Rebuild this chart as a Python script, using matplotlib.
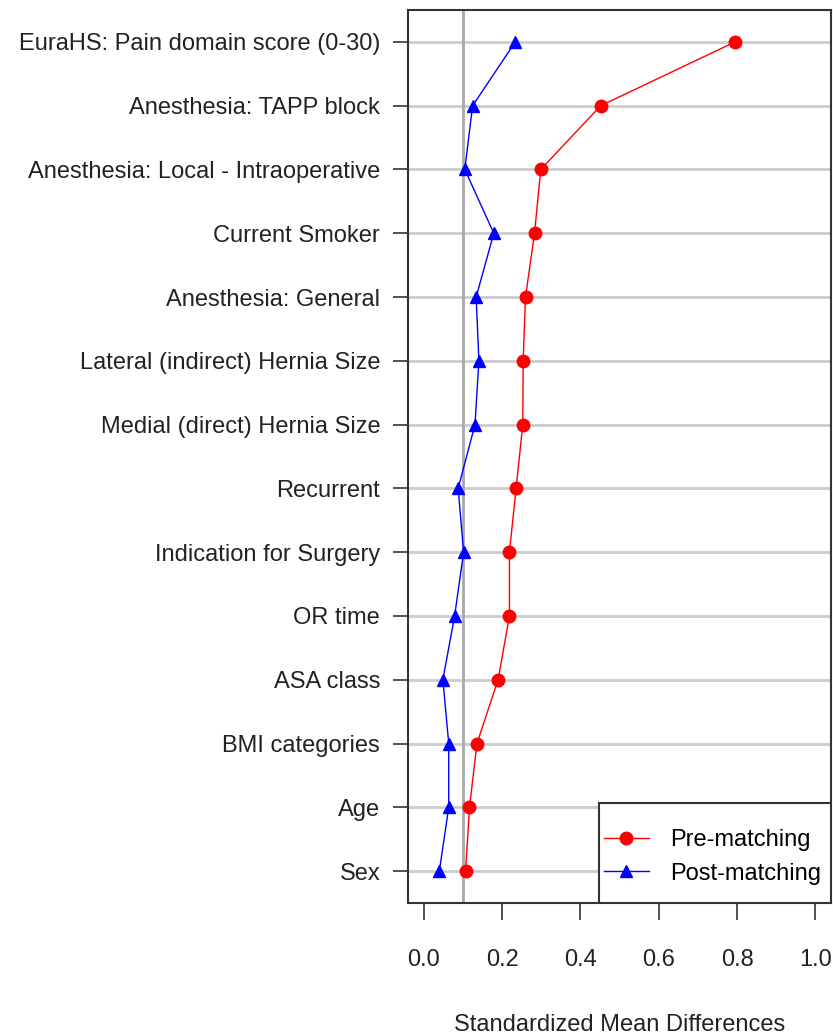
import matplotlib.pyplot as plt
from matplotlib.patches import Rectangle

plt.rcParams['font.family'] = ['Liberation Sans', 'DejaVu Sans']

labels = ['EuraHS: Pain domain score (0-30)', 'Anesthesia: TAPP block',
          'Anesthesia: Local - Intraoperative', 'Current Smoker',
          'Anesthesia: General', 'Lateral (indirect) Hernia Size',
          'Medial (direct) Hernia Size', 'Recurrent', 'Indication for Surgery',
          'OR time', 'ASA class', 'BMI categories', 'Age', 'Sex']
pre = [0.795, 0.452, 0.299, 0.283, 0.260, 0.254, 0.253, 0.236, 0.219,
       0.219, 0.190, 0.136, 0.117, 0.107]
post = [0.234, 0.125, 0.105, 0.179, 0.134, 0.141, 0.131, 0.088, 0.102,
        0.079, 0.049, 0.064, 0.064, 0.040]
xticks = [0.0, 0.2, 0.4, 0.6, 0.8, 1.0]

n = len(labels)
ypos = list(range(n, 0, -1))

fig = plt.figure(figsize=(8.33, 10.34), dpi=100)
ax = fig.add_axes([0.4898, 0.1267, 0.5078, 0.8636])

for y in ypos:
    ax.axhline(y, color='#cccccc', lw=2, zorder=0)
ax.axvline(0.1, color='#a8a8a8', lw=2, zorder=1)

ax.plot(pre, ypos, '-', color='red', lw=1, marker='o', ms=9, label='Pre-matching', zorder=3)
ax.plot(post, ypos, '-', color='blue', lw=1, marker='^', ms=9, label='Post-matching', zorder=3)

ax.set_xlim(-0.04, 1.04)
ax.set_ylim(0.5, n + 0.5)
ax.set_yticks(ypos)
ax.set_yticklabels(labels)
ax.set_xticks(xticks)
ax.set_xticklabels(['%.1f' % t for t in xticks])
ax.tick_params(axis='y', length=11, width=1.2, labelsize=17, pad=9, color='#333333',
               labelcolor='#222222')
ax.tick_params(axis='x', length=12, width=1.2, labelsize=17, pad=21, color='#333333',
               labelcolor='#222222')
ax.set_xlabel('Standardized Mean Differences', fontsize=17, labelpad=31, color='#222222')

for s in ax.spines.values():
    s.set_linewidth(1.5)
    s.set_color('#333333')

# legend box drawn by hand so the padding can differ by side
box = Rectangle((0.4515, 0.0), 1 - 0.4515, 0.112, transform=ax.transAxes,
                facecolor='white', edgecolor='#333333', lw=1.5, zorder=4)
ax.add_patch(box)
leg = ax.legend(loc='center', bbox_to_anchor=(0.4515 + (1 - 0.4515) / 2 - 0.006, 0.0515),
                fontsize=17, frameon=False, handlelength=1.9, handletextpad=0.9,
                borderpad=0, labelspacing=0.47)
leg.set_zorder(5)

fig.savefig('out.png', dpi=100)
